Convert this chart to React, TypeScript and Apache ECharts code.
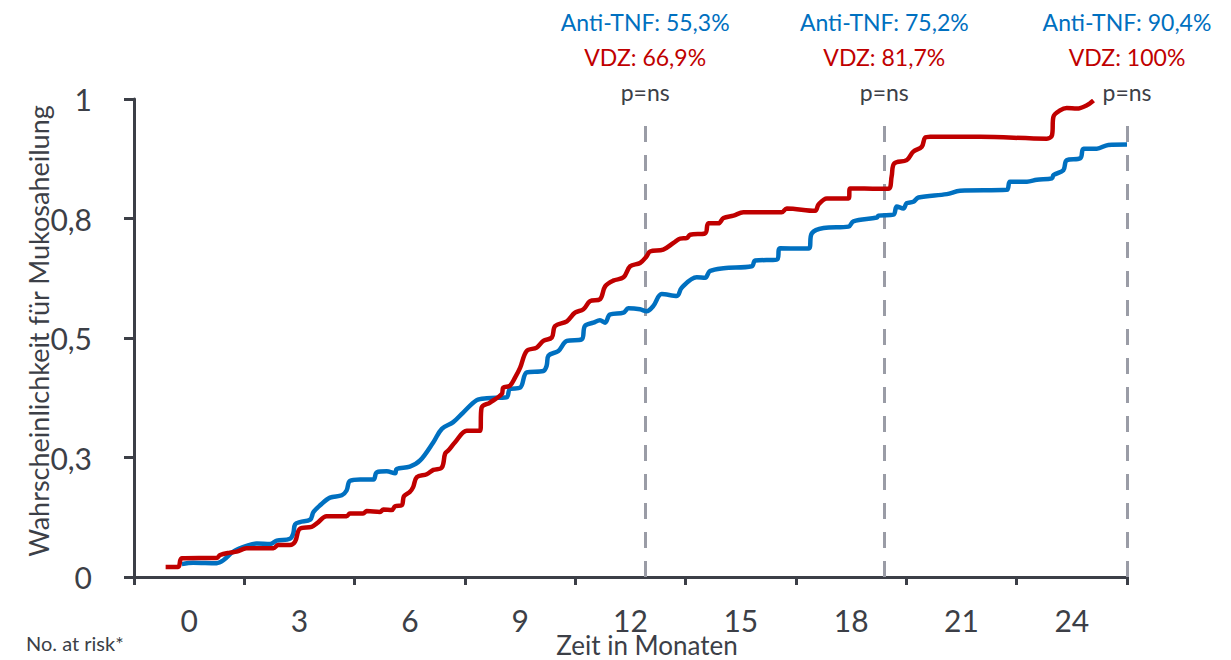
import React, { useEffect, useRef } from "react";
import * as echarts from "echarts";

// x-axis category labels (months)
const xCategories = ["0", "3", "6", "9", "12", "15", "18", "21", "24"];
// y-axis tick labels (at 0, 0.25, 0.5, 0.75, 1)
const yTickLabels = ["0", "0,3", "0,5", "0,8", "1"];

// VDZ (red) Kaplan-Meier-type curve: months / probability
const vdzMonths = [
  -0.64, -0.3, -0.2, 0.75, 0.84, 1.11, 1.29, 1.56, 2.29, 2.42, 2.74, 2.88, 3.01, 3.33, 3.47, 3.74, 4.28, 4.37,
  4.73, 4.83, 5.19, 5.28, 5.51, 5.6, 5.78, 5.84, 6.0, 6.09, 6.19, 6.46, 6.64, 6.87, 6.96, 7.05, 7.23, 7.55,
  7.91, 7.95, 8.18, 8.5, 8.54, 8.72, 8.86, 9.0, 9.18, 9.45, 9.63, 9.86, 9.95, 10.27, 10.49, 10.72, 10.9,
  11.17, 11.31, 11.53, 11.81, 11.99, 12.26, 12.44, 12.53, 12.89, 13.17, 13.35, 13.53, 13.62, 14.03, 14.12,
  14.39, 14.53, 14.8, 15.07, 16.11, 16.25, 17.02, 17.11, 17.34, 17.93, 17.97, 19.01, 19.1, 19.17, 19.51,
  19.69, 19.92, 20.01, 20.15, 21.51, 23.32, 23.46, 23.5, 23.68, 23.86, 24.14, 24.41, 24.59,
];
const vdzProb = [
  0.021, 0.021, 0.039, 0.04, 0.046, 0.051, 0.053, 0.06, 0.06, 0.067, 0.067, 0.074, 0.101, 0.105, 0.112, 0.127,
  0.127, 0.133, 0.133, 0.138, 0.136, 0.141, 0.14, 0.148, 0.15, 0.169, 0.178, 0.188, 0.209, 0.215, 0.224,
  0.229, 0.258, 0.265, 0.282, 0.306, 0.306, 0.354, 0.365, 0.383, 0.396, 0.4, 0.417, 0.438, 0.473, 0.48,
  0.494, 0.501, 0.525, 0.535, 0.553, 0.56, 0.577, 0.581, 0.608, 0.62, 0.627, 0.65, 0.657, 0.671, 0.681,
  0.685, 0.699, 0.708, 0.709, 0.716, 0.719, 0.74, 0.74, 0.751, 0.756, 0.763, 0.763, 0.771, 0.766, 0.779,
  0.792, 0.792, 0.813, 0.812, 0.838, 0.865, 0.872, 0.89, 0.9, 0.919, 0.921, 0.921, 0.917, 0.924, 0.963,
  0.976, 0.981, 0.98, 0.987, 0.997,
];

// Anti-TNF (blue) curve: months / probability
const tnfMonths = [
  -0.2, 0.11, 0.75, 0.93, 1.2, 1.56, 1.84, 2.2, 2.38, 2.74, 2.83, 2.88, 3.01, 3.29, 3.38, 3.56, 3.83, 4.15,
  4.28, 4.37, 4.65, 5.01, 5.1, 5.37, 5.6, 5.64, 6.0, 6.28, 6.64, 6.87, 7.18, 7.45, 7.82, 8.09, 8.63, 8.72,
  9.0, 9.18, 9.63, 9.72, 9.77, 10.04, 10.27, 10.67, 10.76, 10.99, 11.17, 11.31, 11.44, 11.81, 11.94, 12.26,
  12.44, 12.62, 12.85, 13.26, 13.39, 13.8, 14.03, 14.16, 14.53, 15.3, 15.39, 15.98, 16.07, 16.84, 16.93,
  17.25, 17.93, 18.06, 18.7, 18.74, 19.15, 19.24, 19.42, 19.51, 19.69, 19.83, 20.6, 20.96, 22.23, 22.32,
  22.78, 23.05, 23.46, 23.5, 23.77, 23.86, 24.23, 24.32, 24.68, 24.99, 25.5,
];
const tnfProb = [
  0.027, 0.03, 0.029, 0.035, 0.053, 0.065, 0.07, 0.069, 0.076, 0.08, 0.091, 0.11, 0.115, 0.12, 0.136, 0.15,
  0.166, 0.171, 0.181, 0.201, 0.204, 0.204, 0.219, 0.221, 0.217, 0.226, 0.231, 0.244, 0.282, 0.31, 0.324,
  0.344, 0.37, 0.374, 0.376, 0.393, 0.396, 0.428, 0.431, 0.442, 0.463, 0.473, 0.494, 0.497, 0.525, 0.532,
  0.537, 0.532, 0.549, 0.553, 0.562, 0.56, 0.556, 0.567, 0.592, 0.588, 0.605, 0.627, 0.626, 0.64, 0.646,
  0.65, 0.662, 0.664, 0.688, 0.687, 0.719, 0.73, 0.733, 0.744, 0.752, 0.756, 0.758, 0.775, 0.771, 0.782,
  0.785, 0.794, 0.801, 0.808, 0.81, 0.827, 0.827, 0.831, 0.834, 0.841, 0.851, 0.872, 0.876, 0.896, 0.896,
  0.904, 0.905,
];

// Vertical reference lines (months) and their annotations
const refMonths = [12.4, 18.9, 25.5];
const antiTnfRates = ["55,3%", "75,2%", "90,4%"];
const vdzRates = ["66,9%", "81,7%", "100%"];
const pValues = ["p=ns", "p=ns", "p=ns"];

const FONT = "Lato, 'Noto Sans', sans-serif";
const AXIS_COLOR = "#3c3f47";
const BLUE = "#0070C0";
const RED = "#C00000";

export default function App() {
  const ref = useRef<HTMLDivElement>(null);

  useEffect(() => {
    if (!ref.current) return;
    const chart = echarts.init(ref.current, undefined, { renderer: "svg" });

    const vdzData = vdzMonths.map((m, i) => [m, vdzProb[i]]);
    const tnfData = tnfMonths.map((m, i) => [m, tnfProb[i]]);

    chart.setOption({
      animation: false,
      backgroundColor: "#ffffff",
      textStyle: { fontFamily: FONT },
      grid: { left: 134, right: 104, top: 99, bottom: 83, containLabel: false, outerBoundsMode: "none" },
      xAxis: [
        {
          type: "category",
          data: xCategories,
          boundaryGap: true,
          axisLine: { show: true, onZero: false, lineStyle: { color: AXIS_COLOR, width: 3 } },
          axisTick: { show: true, length: 8, lineStyle: { color: AXIS_COLOR, width: 3 } },
          axisLabel: { color: AXIS_COLOR, fontSize: 30, fontFamily: FONT, margin: 28 },
          splitLine: { show: false },
        },
        {
          type: "value",
          min: -1.5,
          max: 25.5,
          show: false,
          splitLine: { show: false },
        },
      ],
      yAxis: {
        type: "value",
        min: 0,
        max: 1,
        interval: 0.25,
        axisLine: { show: true, onZero: false, lineStyle: { color: AXIS_COLOR, width: 3 } },
        axisTick: { show: true, length: 10, lineStyle: { color: AXIS_COLOR, width: 3 } },
        axisLabel: {
          color: AXIS_COLOR,
          fontSize: 30,
          fontFamily: FONT,
          margin: 42,
          formatter: (_v: number, i: number) => yTickLabels[i],
        },
        splitLine: { show: false },
      },
      series: [
        {
          name: "Anti-TNF",
          type: "line",
          xAxisIndex: 1,
          data: tnfData,
          smooth: 0.35,
          showSymbol: false,
          symbol: "none",
          lineStyle: { color: BLUE, width: 4.5 },
          itemStyle: { color: BLUE },
          z: 3,
        },
        {
          name: "VDZ",
          type: "line",
          xAxisIndex: 1,
          data: vdzData,
          smooth: 0.35,
          showSymbol: false,
          symbol: "none",
          lineStyle: { color: RED, width: 4.5 },
          itemStyle: { color: RED },
          z: 4,
          markLine: {
            silent: true,
            symbol: ["none", "none"],
            z: 2,
            lineStyle: { color: "#9a9ca6", width: 3, type: [16, 13] },
            label: {
              show: true,
              position: "end",
              distance: 4,
              formatter: (p: any) =>
                `{a|Anti-TNF: ${antiTnfRates[p.dataIndex]}}\n{b|VDZ: ${vdzRates[p.dataIndex]}}\n{c|${pValues[p.dataIndex]}}`,
              rich: {
                a: { color: BLUE, fontSize: 23, lineHeight: 35, fontFamily: FONT, align: "center" },
                b: { color: RED, fontSize: 23, lineHeight: 35, fontFamily: FONT, align: "center" },
                c: { color: AXIS_COLOR, fontSize: 23, lineHeight: 35, fontFamily: FONT, align: "center" },
              },
            },
            data: refMonths.map((m) => [{ coord: [m, 0] }, { coord: [m, 0.97] }]),
          },
        },
      ],
      graphic: [
        {
          type: "text",
          x: 38,
          y: 331,
          rotation: Math.PI / 2,
          style: {
            text: "Wahrscheinlichkeit für Mukosaheilung",
            fill: AXIS_COLOR,
            font: `27px ${FONT}`,
            align: "center",
            verticalAlign: "middle",
          },
        },
        {
          type: "text",
          x: 647,
          y: 645,
          style: {
            text: "Zeit in Monaten",
            fill: AXIS_COLOR,
            font: `26px ${FONT}`,
            align: "center",
            verticalAlign: "middle",
          },
        },
        {
          type: "text",
          x: 26,
          y: 643,
          style: {
            text: "No. at risk*",
            fill: AXIS_COLOR,
            font: `20px ${FONT}`,
            align: "left",
            verticalAlign: "middle",
          },
        },
      ],
    });

    return () => chart.dispose();
  }, []);

  return <div ref={ref} style={{ width: 1231, height: 660, position: "absolute", left: 0, top: 0 }} />;
}
